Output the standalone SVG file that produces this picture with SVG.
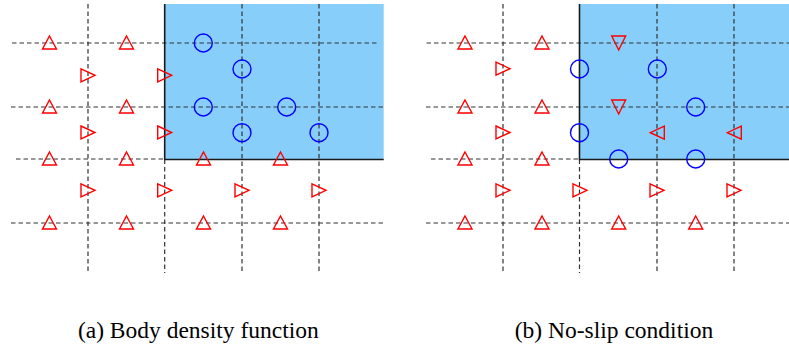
<svg xmlns="http://www.w3.org/2000/svg" xmlns:xlink="http://www.w3.org/1999/xlink" width="789" height="350" viewBox="0 0 789 350">
<style>
.grid{stroke:#333;stroke-width:1.2;stroke-dasharray:4.5 3;fill:none}
.wall{stroke:#1a1a1a;stroke-width:1.6;fill:none}
.fluid{fill:#87cefa}
.tri{fill:none;stroke:#ff0000;stroke-width:1.4;stroke-linejoin:miter}
.cir{fill:none;stroke:#0000ff;stroke-width:1.4}
.cap{font-family:"Liberation Serif","Times New Roman",serif;font-size:23.5px;fill:#000;text-anchor:middle}
</style>
<defs>
<path id="up" class="tri" d="M0,-7 L7,6 L-7,6 Z"/>
<path id="dn" class="tri" d="M-7,-7 L7,-7 L0,7 Z"/>
<path id="rt" class="tri" d="M-7,-6.5 L7,0 L-7,6.5 Z"/>
<path id="lt" class="tri" d="M7,-6.5 L-7,0 L7,6.5 Z"/>
<circle id="c" class="cir" r="9"/>
</defs>

<g id="panel-a">
<rect class="fluid" x="164.7" y="4" width="219" height="155.5"/>
<g id="grid-a">
<line class="grid" x1="88" y1="4" x2="88" y2="273"/>
<line class="grid" x1="164.7" y1="159.5" x2="164.7" y2="273"/>
<line class="grid" x1="242" y1="4" x2="242" y2="273"/>
<line class="grid" x1="319" y1="4" x2="319" y2="273"/>
<line class="grid" x1="12" y1="43" x2="377" y2="43"/>
<line class="grid" x1="11" y1="107" x2="383.7" y2="107"/>
<line class="grid" x1="16" y1="159" x2="164.7" y2="159"/>
<line class="grid" x1="11" y1="223" x2="383.7" y2="223"/>
</g>
<path id="wall-a" class="wall" d="M164.7,4 V159.5 H383.7"/>
<g id="markers-a">
<use xlink:href="#up" x="49.5" y="43"/><use xlink:href="#up" x="126.5" y="43"/>
<use xlink:href="#up" x="49.5" y="107"/><use xlink:href="#up" x="126.5" y="107"/>
<use xlink:href="#up" x="49.5" y="159"/><use xlink:href="#up" x="126.5" y="159"/>
<use xlink:href="#up" x="203.5" y="159"/><use xlink:href="#up" x="280.5" y="159"/>
<use xlink:href="#up" x="49.5" y="223"/><use xlink:href="#up" x="126.5" y="223"/>
<use xlink:href="#up" x="203.5" y="223"/><use xlink:href="#up" x="280.5" y="223"/>
<use xlink:href="#rt" x="88" y="75.3"/><use xlink:href="#rt" x="164.7" y="75.3"/>
<use xlink:href="#rt" x="88" y="132.5"/><use xlink:href="#rt" x="164.7" y="132.5"/>
<use xlink:href="#rt" x="88" y="190.3"/><use xlink:href="#rt" x="164.7" y="190.3"/>
<use xlink:href="#rt" x="242" y="190.3"/><use xlink:href="#rt" x="319" y="190.3"/>
<use xlink:href="#c" x="203.3" y="43"/><use xlink:href="#c" x="242" y="69"/>
<use xlink:href="#c" x="203.3" y="107"/><use xlink:href="#c" x="286.7" y="107"/>
<use xlink:href="#c" x="242" y="132.7"/><use xlink:href="#c" x="319" y="132.7"/>
</g>
<text id="caption-a" class="cap" x="198.3" y="338">(a) Body density function</text>
</g>

<g id="panel-b">
<rect class="fluid" x="579.5" y="4" width="209.5" height="155.5"/>
<g id="grid-b">
<line class="grid" x1="503" y1="4" x2="503" y2="273"/>
<line class="grid" x1="579.5" y1="159.5" x2="579.5" y2="273"/>
<line class="grid" x1="657" y1="4" x2="657" y2="273"/>
<line class="grid" x1="734" y1="4" x2="734" y2="273"/>
<line class="grid" x1="426.5" y1="43" x2="789" y2="43"/>
<line class="grid" x1="426" y1="107" x2="789" y2="107"/>
<line class="grid" x1="431" y1="159" x2="579.5" y2="159"/>
<line class="grid" x1="426" y1="223" x2="789" y2="223"/>
</g>
<path id="wall-b" class="wall" d="M579.5,4 V159.5 H789"/>
<g id="markers-b">
<use xlink:href="#up" x="465" y="43"/><use xlink:href="#up" x="542" y="43"/>
<use xlink:href="#up" x="465" y="107"/><use xlink:href="#up" x="542" y="107"/>
<use xlink:href="#up" x="465" y="159"/><use xlink:href="#up" x="542" y="159"/>
<use xlink:href="#up" x="465" y="223"/><use xlink:href="#up" x="542" y="223"/>
<use xlink:href="#up" x="618.7" y="223"/><use xlink:href="#up" x="695.7" y="223"/>
<use xlink:href="#dn" x="618.7" y="43"/><use xlink:href="#dn" x="618.7" y="107"/>
<use xlink:href="#rt" x="503" y="68.7"/><use xlink:href="#rt" x="503" y="132.5"/>
<use xlink:href="#rt" x="503" y="190.3"/><use xlink:href="#rt" x="580" y="190.3"/>
<use xlink:href="#rt" x="657" y="190.3"/><use xlink:href="#rt" x="734" y="190.3"/>
<use xlink:href="#lt" x="657.3" y="132.7"/><use xlink:href="#lt" x="734.3" y="132.7"/>
<use xlink:href="#c" x="579.5" y="69"/><use xlink:href="#c" x="657.3" y="69"/>
<use xlink:href="#c" x="695.7" y="107"/><use xlink:href="#c" x="579.5" y="132.7"/>
<use xlink:href="#c" x="618.7" y="159"/><use xlink:href="#c" x="695.7" y="159"/>
</g>
<text id="caption-b" class="cap" x="614" y="338">(b) No-slip condition</text>
</g>
</svg>
